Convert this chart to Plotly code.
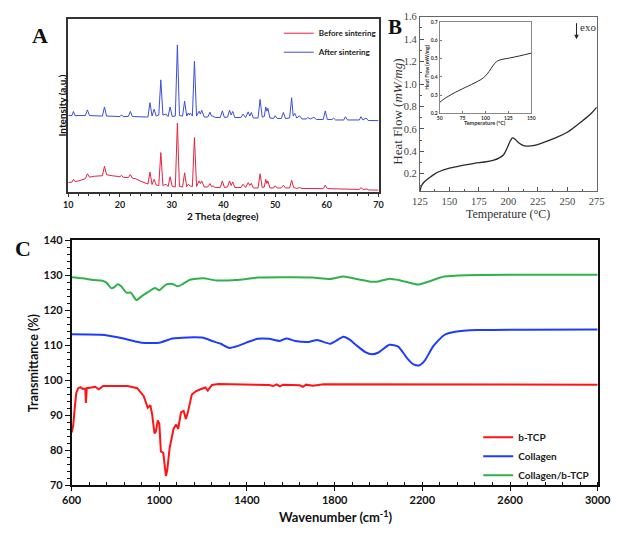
import plotly.graph_objects as go

W, H = 629, 534
def px(x): return x / W
def py(y): return 1 - y / H

# ---------------- Panel A : XRD ----------------
xrd_before = [(10.0, 10), (10.7, 10.5), (11.0, 13.3), (11.3, 11), (12.0, 11.7), (13.3, 14), (13.7, 19), (14.1, 15.5),
              (15.0, 16.5), (16.6, 17), (17.0, 26.7), (17.4, 18), (18.5, 17), (19.5, 16.5), (20.0, 16), (20.3, 17.5),
              (20.6, 15.5), (21.6, 15), (22.0, 18.3), (22.4, 14.5), (23.0, 14), (24.0, 11.5), (25.0, 9), (25.4, 8.5),
              (25.8, 20.7), (26.2, 8), (26.6, 13.3), (27.0, 7.5), (27.5, 7), (27.9, 40.7), (28.3, 7), (28.9, 8.3),
              (29.3, 6), (29.7, 16), (30.1, 6), (30.7, 5.5), (31.1, 70.7), (31.5, 6), (32.1, 5.5), (32.5, 20),
              (32.9, 6), (33.2, 8.3), (33.6, 6.5), (34.0, 6), (34.4, 56), (34.8, 6), (35.3, 11.7), (35.55, 9),
              (35.8, 11.7), (36.3, 5.5), (37.0, 5.5), (37.4, 9), (37.7, 6), (38.0, 6.7), (38.4, 5), (39.4, 5),
              (39.8, 11.7), (40.2, 5), (40.8, 5.5), (41.2, 11.7), (41.5, 7), (41.8, 10.7), (42.2, 5), (43.4, 5),
              (43.8, 8.3), (44.3, 5), (44.8, 10), (45.1, 7), (45.4, 9.3), (45.8, 4.5), (46.7, 4.5), (47.1, 19),
              (47.5, 5), (47.9, 5.5), (48.2, 13.3), (48.4, 9), (48.6, 11.7), (49.0, 4.5), (49.7, 4.5), (50.0, 6.7),
              (50.4, 4.5), (51.2, 4.5), (51.6, 7.3), (52.0, 4.5), (52.8, 4.5), (53.2, 12.3), (53.6, 5), (54.2, 4),
              (54.7, 5), (55.2, 4), (59.3, 3.8), (59.7, 7.3), (60.1, 3.8), (66.3, 3), (66.6, 5), (67.0, 3),
              (67.8, 3.5), (68.0, 2.5), (70.0, 2.3)]

xrd_after = [(10.0, 78.5), (10.7, 78.5), (11.0, 82.7), (11.3, 78.5), (13.3, 78.5), (13.7, 84.3), (14.1, 78.5),
             (16.6, 78), (17.0, 87.3), (17.4, 78), (20.0, 77.5), (20.3, 79.3), (20.6, 77.5), (21.6, 77.5),
             (22.0, 82.7), (22.4, 77.5), (25.4, 77), (25.8, 91.7), (26.2, 78), (26.6, 85), (27.0, 78), (27.5, 79),
             (27.9, 115), (28.3, 79), (28.9, 80), (29.3, 77.5), (29.7, 87.3), (30.1, 77.5), (30.7, 78),
             (31.1, 150.7), (31.5, 78.5), (32.1, 78), (32.5, 93.3), (32.9, 78), (33.2, 81), (33.4, 79), (33.6, 81),
             (34.0, 78), (34.4, 134), (34.8, 78), (35.3, 83), (35.55, 80), (35.8, 84), (36.3, 77), (37.0, 77),
             (37.4, 82), (37.7, 78), (38.0, 78), (38.4, 76.5), (39.4, 76.5), (39.8, 83.3), (40.2, 76.5),
             (40.8, 77), (41.2, 84), (41.5, 79), (41.8, 82.7), (42.2, 76.5), (43.4, 76.5), (43.8, 80), (44.3, 76.5),
             (44.8, 82.3), (45.1, 78), (45.4, 81.7), (45.8, 76), (46.7, 76), (47.1, 95), (47.5, 77), (47.9, 77.5),
             (48.2, 87.3), (48.4, 83), (48.6, 86), (49.0, 76), (49.7, 75.5), (50.0, 78.3), (50.4, 75.5),
             (51.2, 75.5), (51.6, 81.7), (52.0, 75.5), (52.8, 76), (53.2, 96.7), (53.5, 78), (53.8, 80.7),
             (54.2, 76), (54.7, 78.3), (55.2, 75), (56.0, 75), (56.3, 76.5), (56.8, 75), (57.5, 76.7), (58.0, 74.5),
             (59.3, 74.5), (59.7, 83.3), (60.1, 74.5), (61.0, 74.5), (61.3, 76), (61.7, 74), (63.3, 74),
             (63.6, 77.3), (64.0, 74), (65.0, 74), (66.3, 74), (66.6, 77.3), (67.0, 74), (67.6, 76), (68.0, 73.5),
             (70.0, 73.3)]

theta_before, int_before = zip(*xrd_before)
theta_after, int_after = zip(*xrd_after)
xrd_ticks = [10, 20, 30, 40, 50, 60, 70]

# ---------------- Panel B : DSC ----------------
dsc_main = [(125, 0.045), (126, 0.085), (128, 0.12), (130, 0.14), (133, 0.165), (137, 0.195), (141, 0.218),
            (150, 0.25), (160, 0.272), (171, 0.293), (180, 0.305), (187, 0.32), (192, 0.34), (196, 0.37),
            (199, 0.43), (201.5, 0.49), (203.6, 0.52), (206, 0.505), (209, 0.475), (213, 0.452), (217, 0.446),
            (222, 0.453), (230, 0.48), (240, 0.52), (250, 0.57), (262, 0.665), (270, 0.735), (275, 0.795)]
dsc_inset = [(50, 0.26), (55, 0.28), (60, 0.295), (67, 0.315), (75, 0.335), (87.5, 0.365), (95, 0.385),
             (100, 0.405), (104, 0.43), (108, 0.46), (112, 0.483), (116, 0.493), (125, 0.502), (137.5, 0.515),
             (150, 0.53)]
temp_main, hf_main = zip(*dsc_main)
temp_inset, hf_inset = zip(*dsc_inset)

# ---------------- Panel C : FTIR ----------------
ftir_btcp = [(600, 85), (607, 87), (614, 92), (621, 96.3), (630, 97.7), (640, 98), (650, 97.5), (662, 97.6),
             (665, 93.5), (669, 97.7), (690, 97.9), (707, 98.1), (724, 97.4), (744, 98.3), (855, 98.3),
             (899, 97.7), (929, 95.4), (947, 92.1), (959, 92.8), (967, 90.3), (978, 84.8), (984, 85.2),
             (993, 88.5), (1000, 87.5), (1007, 79.6), (1018, 79.2), (1030, 72.6), (1036, 74.2), (1047, 80.6),
             (1065, 86.1), (1077, 87.3), (1086, 86.1), (1099, 90.8), (1111, 91.2), (1121, 88.9), (1129, 90.5),
             (1148, 95.8), (1166, 96.8), (1188, 97.4), (1210, 97.9), (1221, 97.0), (1240, 98.6), (1270, 98.9),
             (1400, 98.8), (1500, 98.6), (1520, 98.3), (1535, 98.8), (1550, 98.2), (1565, 98.7), (1640, 98.5),
             (1655, 98.1), (1670, 98.7), (1700, 98.4), (1750, 98.8), (2000, 98.8), (3000, 98.7)]
ftir_collagen = [(600, 113.1), (750, 112.9), (850, 111.7), (920, 110.7), (1000, 110.7), (1060, 111.9),
                 (1130, 112.2), (1200, 112.1), (1240, 111.2), (1280, 110.4), (1320, 109.2), (1360, 109.8),
                 (1400, 110.8), (1450, 111.8), (1500, 111.8), (1550, 111.2), (1580, 111.9), (1620, 111.2),
                 (1680, 110.9), (1720, 111.5), (1780, 110.4), (1840, 112.4), (1870, 111.5), (1900, 109.9),
                 (1940, 108.0), (1970, 107.4), (2000, 107.9), (2050, 110.1), (2090, 109.6), (2130, 106.3),
                 (2160, 104.5), (2185, 104.2), (2210, 105.5), (2250, 109.7), (2300, 112.9), (2350, 113.8),
                 (2450, 114.3), (3000, 114.5)]
ftir_composite = [(600, 129.4), (650, 129.1), (700, 128.6), (740, 128.4), (760, 127.8), (780, 126.3),
                  (795, 126.6), (810, 127.4), (825, 126.9), (850, 125.0), (870, 125.0), (895, 122.9),
                  (920, 124.0), (950, 125.2), (980, 126.3), (1000, 125.7), (1030, 127.3), (1060, 127.5),
                  (1085, 126.8), (1110, 127.6), (1140, 128.7), (1200, 129.1), (1260, 128.5), (1350, 128.6),
                  (1450, 129.3), (1600, 129.4), (1700, 129.3), (1780, 128.9), (1840, 129.6), (1900, 128.9),
                  (1970, 128.1), (2000, 128.2), (2050, 129.0), (2100, 128.5), (2180, 127.3), (2230, 128.2),
                  (2300, 129.6), (2400, 130.0), (3000, 130.1)]
wn_btcp, t_btcp = zip(*ftir_btcp)
wn_col, t_col = zip(*ftir_collagen)
wn_comp, t_comp = zip(*ftir_composite)
ftir_xticks = [600, 1000, 1400, 1800, 2200, 2600, 3000]

SANS = "Lato"
SERIF = "Liberation Serif"

fig = go.Figure()
# A
fig.add_trace(go.Scatter(x=theta_before, y=int_before, mode="lines", name="Before sintering",
                         line=dict(color="#e5233f", width=1), xaxis="x", yaxis="y", legend="legend"))
fig.add_trace(go.Scatter(x=theta_after, y=int_after, mode="lines", name="After sintering",
                         line=dict(color="#3c4fd6", width=1), xaxis="x", yaxis="y", legend="legend"))
# B
fig.add_trace(go.Scatter(x=temp_main, y=hf_main, mode="lines", line=dict(color="#2a2a2a", width=1.3, shape="spline"),
                         xaxis="x2", yaxis="y2", showlegend=False))
fig.add_trace(go.Scatter(x=temp_inset, y=hf_inset, mode="lines", line=dict(color="#2a2a2a", width=1, shape="spline"),
                         xaxis="x3", yaxis="y3", showlegend=False))
# C
fig.add_trace(go.Scatter(x=wn_btcp, y=t_btcp, mode="lines", name="b-TCP",
                         line=dict(color="#ff1414", width=2), xaxis="x4", yaxis="y4", legend="legend2"))
fig.add_trace(go.Scatter(x=wn_col, y=t_col, mode="lines", name="Collagen",
                         line=dict(color="#1e3cff", width=2, shape="spline", smoothing=0.6),
                         xaxis="x4", yaxis="y4", legend="legend2"))
fig.add_trace(go.Scatter(x=wn_comp, y=t_comp, mode="lines", name="Collagen/b-TCP",
                         line=dict(color="#2fb24c", width=2, shape="spline", smoothing=0.6),
                         xaxis="x4", yaxis="y4", legend="legend2"))

ann = []
def note(text, x, y, size, family=SANS, weight="bold", angle=0, color="#111"):
    ann.append(dict(text=text, x=px(x), y=py(y), xref="paper", yref="paper", showarrow=False,
                    textangle=angle, xanchor="center", yanchor="middle",
                    font=dict(family=family, size=size, color=color, weight=weight)))

note("A", 31, 29, 22, family=SERIF)
note("B", 400, 21, 21, family=SERIF)
note("C", 13, 248, 22, family=SERIF)
note("2 Theta (degree)", 221, 214, 10)
note("Intensity (a.u.)", 54, 101, 10, angle=-90)
note("Heat Flow (<i>mW/mg</i>)", 402, 107, 13, family=SERIF, weight="normal", angle=-90, color="#333")
note("Temperature (°C)", 517, 212, 12, family=SERIF, weight="normal", color="#333")
note("Heat Flow (mW/mg)", 433, 62, 5, angle=-90, color="#333")
note("Temperature (°C)", 493, 118.5, 5.5, color="#333")
note("exo", 600, 20, 11, family=SERIF, weight="normal", color="#333")
note("Transmittance (%)", 24, 365, 12.5, angle=-90)
note("Wavenumber (cm<sup>-1</sup>)", 338, 522, 13)
ann.append(dict(x=px(588), y=py(33), xref="paper", yref="paper", ax=0, ay=-18, text=" ",
                showarrow=True, arrowhead=2, arrowsize=0.9, arrowwidth=1, arrowcolor="#222",
                font=dict(size=1)))

fig.update_layout(
    width=W, height=H, margin=dict(l=0, r=0, t=0, b=0),
    paper_bgcolor="white", plot_bgcolor="white", showlegend=True,
    annotations=ann,
    legend=dict(x=px(279), y=py(12), xanchor="left", yanchor="top", bgcolor="rgba(0,0,0,0)",
                font=dict(family=SANS, size=8, color="#222", weight="bold")),
    legend2=dict(x=px(486), y=py(426), xanchor="left", yanchor="top", bgcolor="rgba(0,0,0,0)",
                 font=dict(family=SANS, size=10, color="#222", weight="bold")),
    xaxis=dict(domain=[px(60.5), px(382.5)], range=[10, 70], tickvals=xrd_ticks, ticks="outside", ticklen=3,
               tickcolor="#333", minor=dict(dtick=2, ticks="outside", ticklen=2, tickcolor="#333"),
               showline=True, mirror=True, linecolor="#333", linewidth=1.5, showgrid=False, zeroline=False,
               tickfont=dict(family=SANS, size=9, color="#222", weight="bold"), anchor="y"),
    yaxis=dict(domain=[py(190), py(12.5)], range=[0, 177], showticklabels=False, ticks="",
               showline=True, mirror=True, linecolor="#333", linewidth=1.5, showgrid=False, zeroline=False,
               anchor="x"),
    xaxis2=dict(domain=[px(425.5), px(609)], range=[125, 275], dtick=25, tick0=125, ticks="inside", ticklen=4,
                tickcolor="#555", minor=dict(dtick=12.5, ticks="inside", ticklen=2, tickcolor="#555"),
                showline=True, mirror=True, linecolor="#666", linewidth=1, showgrid=False, zeroline=False,
                tickfont=dict(family=SERIF, size=10.5, color="#444"), anchor="y2"),
    yaxis2=dict(domain=[py(189), py(10)], range=[0.043, 1.6], tickvals=[0.2, 0.4, 0.6, 0.8, 1.0, 1.2, 1.4, 1.6],
                tickformat=".1f", ticks="inside", ticklen=4, tickcolor="#555",
                minor=dict(dtick=0.1, ticks="inside", ticklen=2, tickcolor="#555"),
                showline=True, mirror=True, linecolor="#666", linewidth=1, showgrid=False, zeroline=False,
                tickfont=dict(family=SERIF, size=10.5, color="#444"), anchor="x2"),
    xaxis3=dict(domain=[px(446), px(541)], range=[50, 150], tickvals=[50, 75, 100, 125, 150], ticks="inside",
                ticklen=2, tickcolor="#777", showline=True, mirror=True, linecolor="#888", linewidth=1,
                showgrid=False, zeroline=False, tickfont=dict(family=SANS, size=5, color="#333", weight="bold"),
                anchor="y3"),
    yaxis3=dict(domain=[py(109), py(15.5)], range=[0.2, 0.7], dtick=0.1, tickformat=".1f", ticks="inside",
                ticklen=2, tickcolor="#777", showline=True, mirror=True, linecolor="#888", linewidth=1,
                showgrid=False, zeroline=False, tickfont=dict(family=SANS, size=5, color="#333", weight="bold"),
                anchor="x3"),
    xaxis4=dict(domain=[px(64), px(610)], range=[600, 3000], tickvals=ftir_xticks, ticks="outside", ticklen=4,
                tickcolor="#111", minor=dict(dtick=80, tick0=600, ticks="inside", ticklen=3, tickcolor="#111"),
                showline=True, mirror=True, linecolor="#111", linewidth=1.6, showgrid=False, zeroline=False,
                tickfont=dict(family=SANS, size=11, color="#111", weight="bold"), anchor="y4"),
    yaxis4=dict(domain=[py(490), py(239)], range=[70, 140], dtick=10, ticks="outside", ticklen=5,
                tickcolor="#111", minor=dict(dtick=2, ticks="outside", ticklen=3, tickcolor="#111"),
                showline=True, mirror=True, linecolor="#111", linewidth=1.6, showgrid=False, zeroline=False,
                tickfont=dict(family=SANS, size=11, color="#111", weight="bold"), anchor="x4"),
)

fig.write_html("out.html", config={"displayModeBar": False},
               post_script="document.body.style.margin='0';document.body.style.overflow='hidden';")
